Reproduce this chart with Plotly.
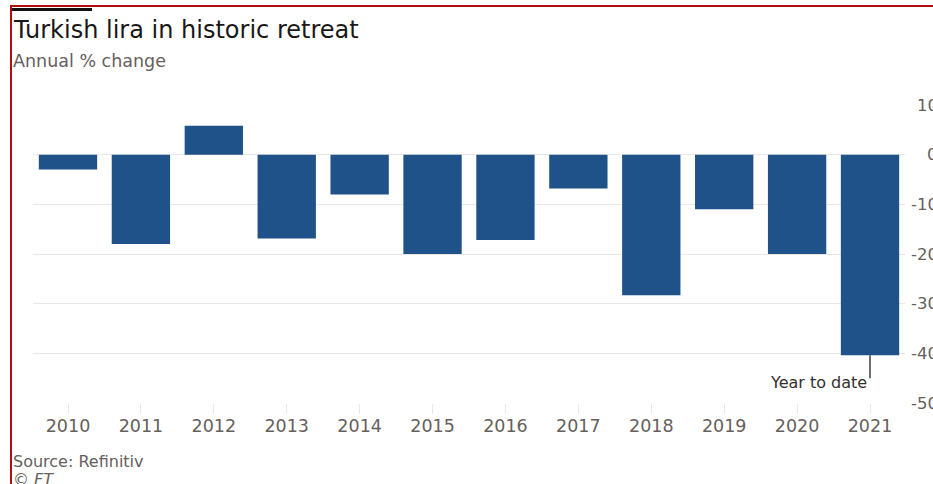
import plotly.graph_objects as go

# Annual % change of the Turkish lira against the dollar
years = ["2010", "2011", "2012", "2013", "2014", "2015",
         "2016", "2017", "2018", "2019", "2020", "2021"]
changes = [-3.0, -18.0, 5.8, -16.9, -8.0, -20.0,
           -17.2, -6.8, -28.3, -11.0, -20.0, -40.4]
y_ticks = [10, 0, -10, -20, -30, -40, -50]
y_tick_labels = ["10", "0", "-10", "-20", "-30", "-40", "-50"]

W, H = 933, 484
L, R, T, B = 33, 28, 105, 81
PW, PH = W - L - R, H - T - B

FONT = "DejaVu Sans"
GREY = "#66605c"
BAR = "#1f5288"
GRID = "#ebe7e3"

xs = list(range(len(years)))

fig = go.Figure()
fig.add_trace(go.Bar(
    x=xs, y=changes,
    marker=dict(color=BAR, line=dict(width=0)),
    hoverinfo="skip",
))


def px_x(p):
    return (p - L) / PW


def px_y(p):
    return (H - B - p) / PH


shapes = [
    # frame: red rule on the left and top, black tab at top left
    dict(type="line", xref="paper", yref="paper",
         x0=px_x(11), x1=px_x(11), y0=px_y(6), y1=px_y(490),
         line=dict(color="#b00d0d", width=2)),
    dict(type="line", xref="paper", yref="paper",
         x0=px_x(10), x1=px_x(940), y0=px_y(6), y1=px_y(6),
         line=dict(color="#b00d0d", width=2)),
    dict(type="rect", xref="paper", yref="paper",
         x0=px_x(12), x1=px_x(92), y0=px_y(8), y1=px_y(11),
         fillcolor="#111111", line=dict(width=0)),
    # leader line under the 2021 bar
    dict(type="line", xref="x", yref="y", ysizemode="pixel",
         yanchor=changes[-1], x0=xs[-1], x1=xs[-1], y0=0, y1=-23,
         line=dict(color="#4d4845", width=1.6)),
]

annotations = [
    dict(text="Turkish lira in historic retreat", xref="paper", yref="paper",
         x=px_x(11), y=px_y(30), xanchor="left", yanchor="middle",
         showarrow=False, font=dict(family=FONT, size=24, color="#1a1817")),
    dict(text="Annual % change", xref="paper", yref="paper",
         x=px_x(11), y=px_y(61), xanchor="left", yanchor="middle",
         showarrow=False, font=dict(family=FONT, size=17.5, color=GREY)),
    dict(text="Source: Refinitiv", xref="paper", yref="paper",
         x=px_x(11), y=px_y(462), xanchor="left", yanchor="middle",
         showarrow=False, font=dict(family=FONT, size=16, color=GREY)),
    dict(text="<i>© FT</i>", xref="paper", yref="paper",
         x=px_x(11), y=px_y(479), xanchor="left", yanchor="middle",
         showarrow=False, font=dict(family=FONT, size=16, color=GREY)),
    dict(text="Year to date", xref="x", yref="y",
         x=xs[-1], y=changes[-1], xanchor="right", yanchor="middle",
         xshift=-1, yshift=-27, showarrow=False,
         font=dict(family=FONT, size=16, color="#33302e")),
]

# right-aligned y tick labels hanging off the right edge
for v, lab in zip(y_ticks, y_tick_labels):
    annotations.append(dict(
        text=lab, xref="paper", yref="y", x=px_x(940), y=v,
        xanchor="right", yanchor="middle", showarrow=False,
        font=dict(family=FONT, size=16.5, color=GREY)))

fig.update_layout(
    width=W, height=H,
    margin=dict(l=L, r=R, t=T, b=B, pad=0),
    paper_bgcolor="white", plot_bgcolor="white",
    showlegend=False,
    bargap=0.2,
    shapes=shapes,
    annotations=annotations,
    xaxis=dict(
        range=[-0.48, 11.48],
        tickvals=xs, ticktext=years,
        ticks="outside", ticklen=10, tickwidth=1, tickcolor=GRID,
        ticklabelstandoff=-3,
        showgrid=False, zeroline=False, showline=False,
        tickfont=dict(family=FONT, size=17.5, color=GREY),
        fixedrange=True,
    ),
    yaxis=dict(
        range=[-50, 10],
        tickvals=y_ticks, showticklabels=False,
        showgrid=True, gridcolor=GRID, gridwidth=1,
        zeroline=False, showline=False, ticks="",
        fixedrange=True,
    ),
)

fig.write_html("out.html", config={"displayModeBar": False})
